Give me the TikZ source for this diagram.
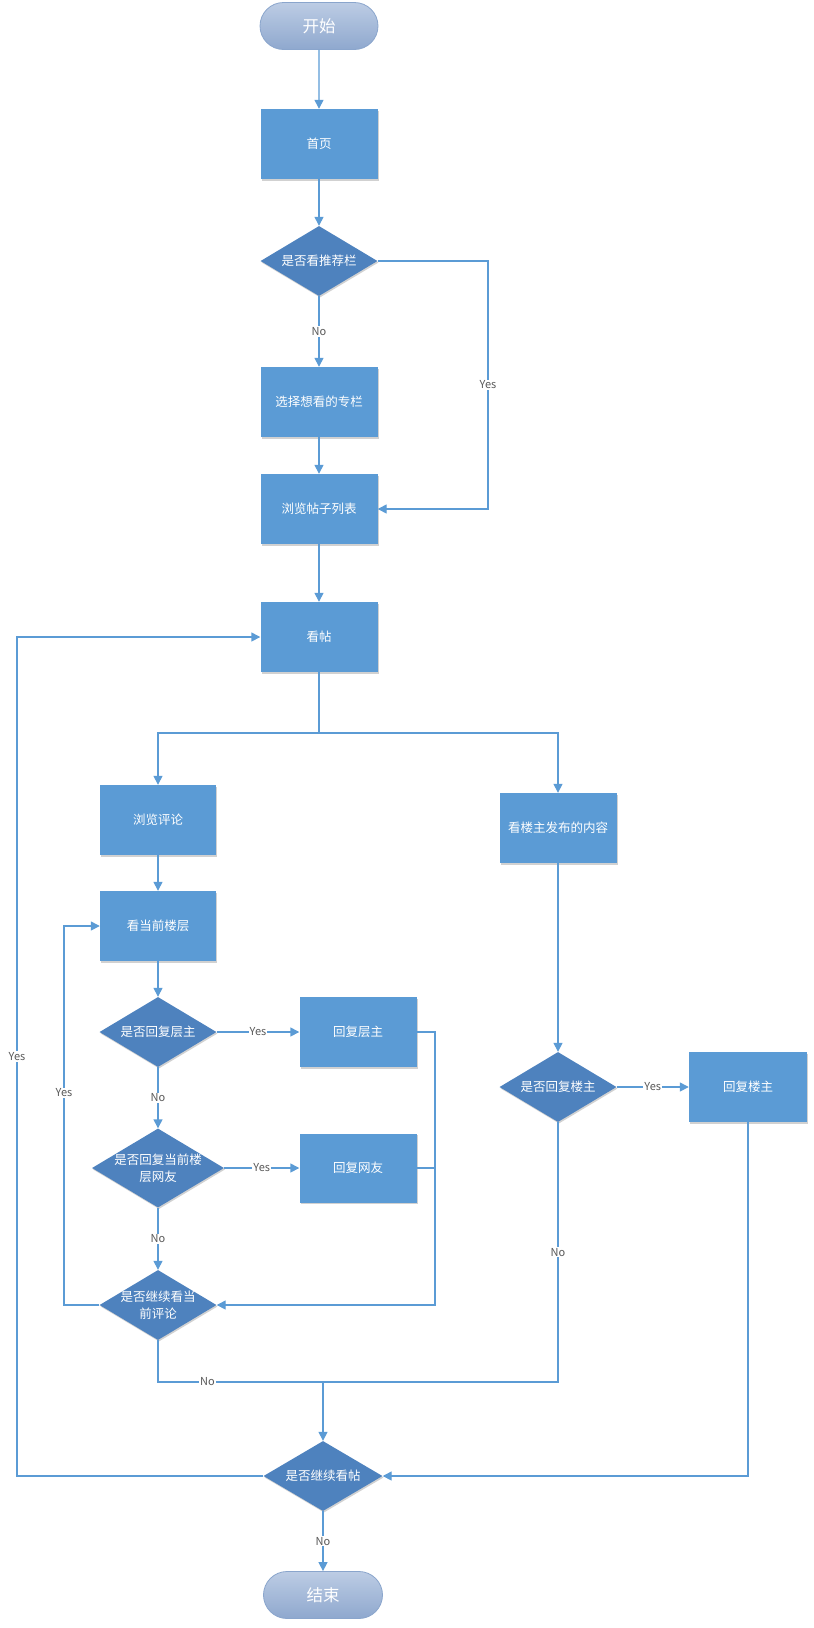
\documentclass[tikz,border=0pt]{standalone}
\usepackage{fontspec}
\setmainfont{Noto Sans CJK SC}
\usetikzlibrary{arrows.meta,shapes.geometric,shapes.misc,shadows}
\definecolor{boxblue}{HTML}{5B9BD5}
\definecolor{diablue}{HTML}{4E82BE}
\definecolor{linec}{HTML}{5B9BD5}
\definecolor{termtop}{HTML}{BCCCE4}
\definecolor{termbot}{HTML}{8FA8CE}
\definecolor{termdraw}{HTML}{8AA5CC}
\definecolor{lblc}{HTML}{595959}
\begin{document}
\begin{tikzpicture}[x=1pt,y=-1pt,
  txt/.style={font=\fontsize{12.5}{17}\selectfont, text=white},
  shad/.style={drop shadow={shadow xshift=1pt, shadow yshift=-1.5pt, opacity=0.18, fill=black}},
  proc/.style={rectangle, fill=boxblue, minimum width=117pt, minimum height=70pt, inner sep=0pt, txt, shad},
  dia/.style={diamond, fill=diablue, minimum width=117pt, minimum height=70pt, inner sep=0pt, shad},
  dtext/.style={txt, align=center, inner sep=0pt},
  term/.style={rounded rectangle, minimum width=118pt, minimum height=47pt, inner sep=0pt,
    top color=termtop, bottom color=termbot, draw=termdraw, line width=0.8pt,
    text=white, font=\fontsize{16.5}{18}\selectfont},
  line/.style={draw=linec, line width=1.4pt},
  arr/.style={line, -{Triangle[length=9pt,width=9pt]}},
  lbl/.style={fill=white, text=lblc, font=\fontsize{11}{13}\selectfont, inner sep=1pt}
]
\useasboundingbox (0,0) rectangle (814,1628);

% nodes
\node[term] (start) at (319,26) {开始};
\node[proc] (home) at (319,144) {首页};
\node[dia, label={[dtext]center:是否看推荐栏}] (d1) at (319,261) {};
\node[proc] (sel) at (319,402) {选择想看的专栏};
\node[proc] (list) at (319,509) {浏览帖子列表};
\node[proc] (view) at (319,637) {看帖};
\node[proc, minimum width=116pt] (cmt) at (158,820) {浏览评论};
\node[proc] (owner) at (558,828) {看楼主发布的内容};
\node[proc, minimum width=116pt] (floor) at (158,926) {看当前楼层};
\node[dia, label={[dtext]center:是否回复层主}] (d2) at (158,1032) {};
\node[proc] (r1) at (358,1032) {回复层主};
\node[dia, minimum width=132pt, minimum height=79pt, label={[dtext]center:{是否回复当前楼\\层网友}}] (d3) at (158,1168) {};
\node[proc, minimum height=69pt] (r2) at (358,1168) {回复网友};
\node[dia, label={[dtext]center:{是否继续看当\\前评论}}] (d4) at (158,1305) {};
\node[dia, label={[dtext]center:是否回复楼主}] (d5) at (558,1087) {};
\node[proc, minimum width=118pt] (r3) at (748,1087) {回复楼主};
\node[dia, minimum width=119pt, label={[dtext]center:是否继续看帖}] (d6) at (323,1476) {};
\node[term, minimum width=119pt] (end) at (323,1595) {结束};

% helper coordinates
\coordinate (c1) at (488,261);
\coordinate (j1) at (319,733);
\coordinate (c5) at (435,1032);
\coordinate (c3) at (64,1305);
\coordinate (j2) at (323,1382);
\coordinate (c4) at (17,1476);

% connectors
\draw[arr] (start) -- (home);
\draw[arr] (home) -- (d1);
\draw[arr] (d1) -- node[lbl]{No} (sel);
\draw[arr] (d1.east) -- (c1) |- node[lbl,pos=0.25]{Yes} (list.east);
\draw[arr] (sel) -- (list);
\draw[arr] (list) -- (view);
\draw[line] (view.south) -- (j1);
\draw[arr] (j1) -| (cmt.north);
\draw[arr] (j1) -| (owner.north);
\draw[arr] (cmt) -- (floor);
\draw[arr] (floor) -- (d2);
\draw[arr] (d2.east) -- node[lbl]{Yes} (r1.west);
\draw[arr] (d2) -- node[lbl]{No} (d3);
\draw[arr] (d3.east) -- node[lbl]{Yes} (r2.west);
\draw[arr] (d3) -- node[lbl]{No} (d4);
\draw[arr] (r1.east) -- (c5) |- (d4.east);
\draw[line] (r2.east) -- (r2.east -| c5);
\draw[arr] (d4.west) -- (c3) |- node[lbl,pos=0.28]{Yes} (floor.west);
\draw[line] (d4.south) |- node[lbl,pos=0.65]{No} (j2);
\draw[arr] (owner) -- (d5);
\draw[arr] (d5.east) -- node[lbl]{Yes} (r3.west);
\draw[line] (d5.south) |- node[lbl,pos=0.25]{No} (j2);
\draw[arr] (j2) -- (d6.north);
\draw[arr] (r3.south) |- (d6.east);
\draw[arr] (d6.west) -- (c4) |- node[lbl,pos=0.25]{Yes} (view.west);
\draw[arr] (d6) -- node[lbl]{No} (end);
\end{tikzpicture}
\end{document}
